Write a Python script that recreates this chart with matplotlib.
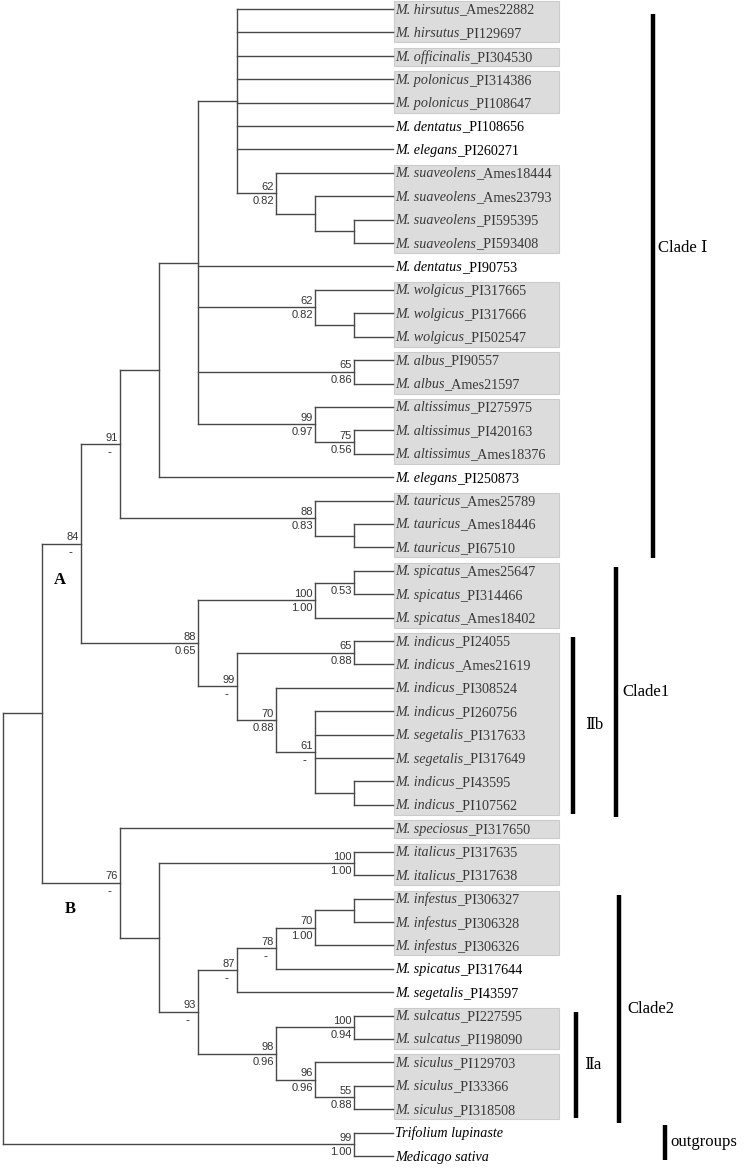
import matplotlib
matplotlib.use("Agg")
import matplotlib.pyplot as plt
from matplotlib.patches import Rectangle

# ── data ──────────────────────────────────────────────────────────────────────
# taxa in tip order: (italic species part, accession)
TAXA = [
    ("M. hirsutus", "_Ames22882"),
    ("M. hirsutus", "_PI129697"),
    ("M. officinalis", "_PI304530"),
    ("M. polonicus", "_PI314386"),
    ("M. polonicus", "_PI108647"),
    ("M. dentatus", "_PI108656"),
    ("M. elegans", "_PI260271"),
    ("M. suaveolens", "_Ames18444"),
    ("M. suaveolens", "_Ames23793"),
    ("M. suaveolens", "_PI595395"),
    ("M. suaveolens", "_PI593408"),
    ("M. dentatus", "_PI90753"),
    ("M. wolgicus", "_PI317665"),
    ("M. wolgicus", "_PI317666"),
    ("M. wolgicus", "_PI502547"),
    ("M. albus", "_PI90557"),
    ("M. albus", "_Ames21597"),
    ("M. altissimus", "_PI275975"),
    ("M. altissimus", "_PI420163"),
    ("M. altissimus", "_Ames18376"),
    ("M. elegans", "_PI250873"),
    ("M. tauricus", "_Ames25789"),
    ("M. tauricus", "_Ames18446"),
    ("M. tauricus", "_PI67510"),
    ("M. spicatus", "_Ames25647"),
    ("M. spicatus", "_PI314466"),
    ("M. spicatus", "_Ames18402"),
    ("M. indicus", "_PI24055"),
    ("M. indicus", "_Ames21619"),
    ("M. indicus", "_PI308524"),
    ("M. indicus", "_PI260756"),
    ("M. segetalis", "_PI317633"),
    ("M. segetalis", "_PI317649"),
    ("M. indicus", "_PI43595"),
    ("M. indicus", "_PI107562"),
    ("M. speciosus", "_PI317650"),
    ("M. italicus", "_PI317635"),
    ("M. italicus", "_PI317638"),
    ("M. infestus", "_PI306327"),
    ("M. infestus", "_PI306328"),
    ("M. infestus", "_PI306326"),
    ("M. spicatus", "_PI317644"),
    ("M. segetalis", "_PI43597"),
    ("M. sulcatus", "_PI227595"),
    ("M. sulcatus", "_PI198090"),
    ("M. siculus", "_PI129703"),
    ("M. siculus", "_PI33366"),
    ("M. siculus", "_PI318508"),
    ("Trifolium lupinaste", ""),
    ("Medicago sativa", ""),
]

# topology: node -> children (ints are taxon numbers, 1-based)
TREE = {
    "root":  ["n1", "out"],
    "out":   [49, 50],
    "n1":    ["A", "B"],
    "A":     ["n91", "n88"],
    "n91":   ["n160", "taur"],
    "n160":  ["n199", 21],
    "n199":  ["poly", 12, "wolg", "alb", "alt"],
    "poly":  [1, 2, 3, 4, 5, 6, 7, "suav"],
    "suav":  [8, "suav2"],
    "suav2": [9, "suav3"],
    "suav3": [10, 11],
    "wolg":  [13, "wolg2"],
    "wolg2": [14, 15],
    "alb":   [16, 17],
    "alt":   [18, "alt2"],
    "alt2":  [19, 20],
    "taur":  [22, "taur2"],
    "taur2": [23, 24],
    "n88":   ["spic", "n99"],
    "spic":  ["spic2", 27],
    "spic2": [25, 26],
    "n99":   ["ind", "n70"],
    "ind":   [28, 29],
    "n70":   [30, "n61"],
    "n61":   [31, 32, 33, "n61b"],
    "n61b":  [34, 35],
    "B":     [36, "nb2"],
    "nb2":   ["ital", "n93"],
    "ital":  [37, 38],
    "n93":   ["n87", "n98"],
    "n87":   ["n78", 43],
    "n78":   ["inf", 42],
    "inf":   ["inf2", 41],
    "inf2":  [39, 40],
    "n98":   ["sulc", "n96"],
    "sulc":  [44, 45],
    "n96":   [46, "sic2"],
    "sic2":  [47, 48],
}

# bootstrap / posterior probability
SUPPORT = {
    "out": ("99", "1.00"), "A": ("84", "-"), "n91": ("91", "-"),
    "suav": ("62", "0.82"), "wolg": ("62", "0.82"), "alb": ("65", "0.86"),
    "alt": ("99", "0.97"), "alt2": ("75", "0.56"), "taur": ("88", "0.83"),
    "n88": ("88", "0.65"), "spic": ("100", "1.00"), "spic2": ("", "0.53"),
    "n99": ("99", "-"), "ind": ("65", "0.88"), "n70": ("70", "0.88"),
    "n61": ("61", "-"), "B": ("76", "-"), "ital": ("100", "1.00"),
    "n93": ("93", "-"), "n87": ("87", "-"), "n78": ("78", "-"),
    "inf": ("70", "1.00"), "n98": ("98", "0.96"), "sulc": ("100", "0.94"),
    "n96": ("96", "0.96"), "sic2": ("55", "0.88"),
}

# shaded species groups (first, last taxon number)
SHADED = [(1, 2), (3, 3), (4, 5), (8, 11), (13, 15), (16, 17), (18, 20),
          (22, 24), (25, 27), (28, 35), (36, 36), (37, 38), (39, 41),
          (44, 45), (46, 48)]

# clade bars (label, first, last taxon number)
CLADES = [("Clade Ⅰ", 1, 24), ("Clade1", 25, 35), ("Ⅱb", 28, 35),
          ("Clade2", 39, 48), ("Ⅱa", 44, 48), ("outgroups", 49, 50)]

# ── layout ────────────────────────────────────────────────────────────────────
W, H = 744, 1168
Y0, DY = 9.0, (1156 - 9) / 49
TIP_X, STEP_X = 393, 39
LINE = "#484848"
SERIF = ["Liberation Serif", "DejaVu Serif", "Noto Sans CJK SC"]

fig = plt.figure(figsize=(W / 100, H / 100), dpi=100)
fig.patch.set_facecolor("white")
ax = fig.add_axes([0, 0, 1, 1])
ax.set_xlim(0, W)
ax.set_ylim(H, 0)
ax.axis("off")


def height(n):
    if isinstance(n, int):
        return 0
    return 1 + max(height(c) for c in TREE[n])


def xpos(n):
    return TIP_X - STEP_X * height(n)


def ypos(n):
    if isinstance(n, int):
        return Y0 + (n - 1) * DY
    ch = TREE[n]
    return (ypos(ch[0]) + ypos(ch[-1])) / 2


# branches
for node, children in TREE.items():
    x = xpos(node)
    ys = [ypos(c) for c in children]
    ax.plot([x, x], [ys[0], ys[-1]], color=LINE, lw=1.0,
            solid_capstyle="projecting", zorder=2)
    for c, y in zip(children, ys):
        ax.plot([x, xpos(c)], [y, y], color=LINE, lw=1.0,
                solid_capstyle="projecting", zorder=2)

# support values
for node, (bs, pp) in SUPPORT.items():
    x, y = xpos(node), ypos(node)
    if bs:
        ax.text(x - 2, y - 1.5, bs, ha="right", va="bottom", fontsize=8,
                family="Liberation Sans", color="#333333", zorder=4)
    if pp == "-":
        ax.text(x - 11, y + 3, pp, ha="center", va="top", fontsize=8.5,
                family="Liberation Sans", color="#333333", zorder=4)
    elif pp:
        ax.text(x - 2, y + 3, pp, ha="right", va="top", fontsize=8,
                family="Liberation Sans", color="#333333", zorder=4)

# shaded boxes
shaded_taxa = set()
for a, b in SHADED:
    ya, yb = ypos(a), ypos(b)
    ax.add_patch(Rectangle((394, ya - 8), 165, yb - ya + 18,
                           facecolor="#dcdcdc", edgecolor="#cbcbcb",
                           lw=0.8, zorder=1))
    shaded_taxa.update(range(a, b + 1))

# taxon labels
for i, (sp, acc) in enumerate(TAXA, start=1):
    y = ypos(i)
    col = "#3a3a3a" if i in shaded_taxa else "black"
    t = ax.text(395, y + 1, sp, style="italic", family=SERIF, fontsize=10.2,
                ha="left", va="center", color=col, zorder=3)
    if acc:
        ax.annotate(acc, xy=(1, 0), xycoords=t, ha="left", va="bottom",
                    family=SERIF, fontsize=10.2, color=col, zorder=3)

# clade bars
BAR_X = [653, 616, 573, 619, 576, 665]
BAR_PAD = [(5, 11), (-4, 12), (-4, 9), (-4, 14), (-4, 9), (-8, 4)]
LABEL_X = [658, 622, 585, 627, 584, 670]
for (lab, a, b), bx, (p0, p1), lx in zip(CLADES, BAR_X, BAR_PAD, LABEL_X):
    y0, y1 = ypos(a) + p0, ypos(b) + p1
    ax.plot([bx, bx], [y0, y1], color="black", lw=3.2,
            solid_capstyle="butt", zorder=3)
    ly = 248 if lab == "Clade Ⅰ" else (y0 + y1) / 2
    ax.text(lx, ly, lab, ha="left", va="center", family=SERIF,
            fontsize=12, color="black", zorder=3)

# node letters
ax.text(60, 580, "A", ha="center", va="center", family=SERIF,
        fontsize=12, fontweight="bold")
ax.text(70, 909, "B", ha="center", va="center", family=SERIF,
        fontsize=12, fontweight="bold")

plt.savefig("out.png", dpi=100, facecolor="white")
